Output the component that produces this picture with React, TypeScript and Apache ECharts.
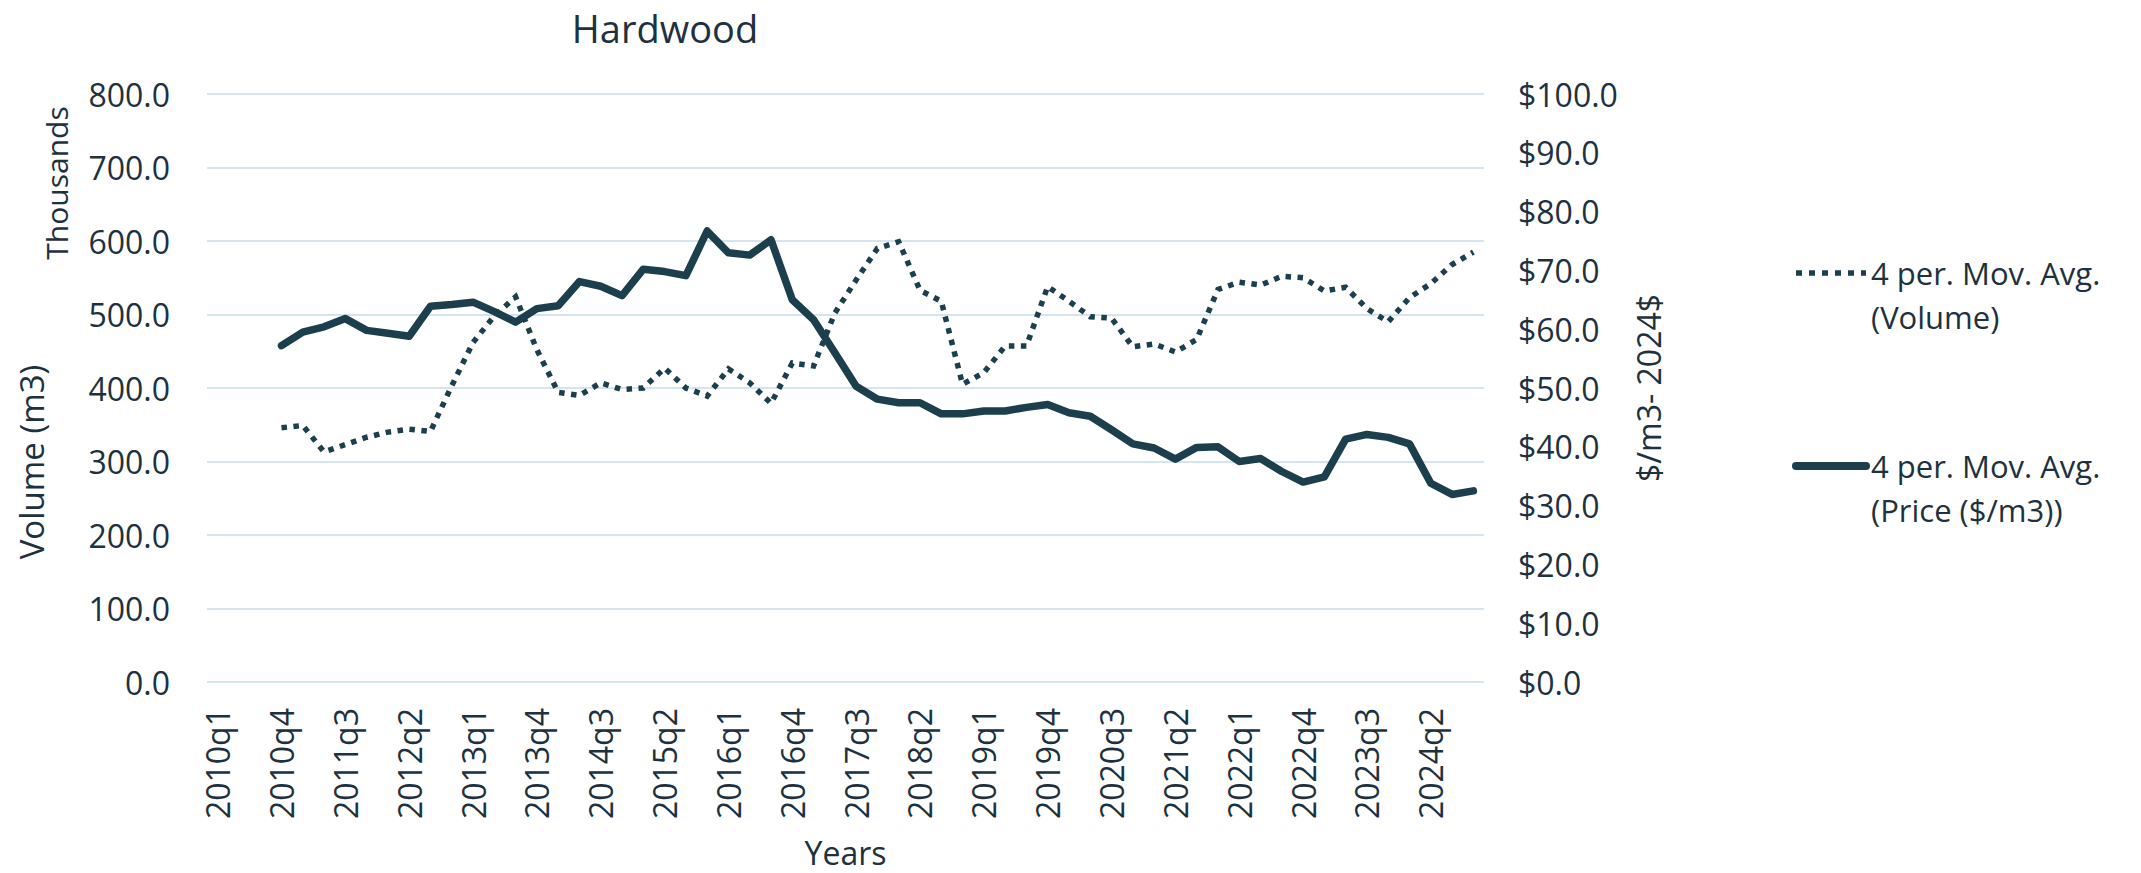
import React, { useEffect, useRef } from 'react';
import * as echarts from 'echarts';

const categories: string[] = [
  '2010q1', '2010q2', '2010q3', '2010q4',
  '2011q1', '2011q2', '2011q3', '2011q4',
  '2012q1', '2012q2', '2012q3', '2012q4',
  '2013q1', '2013q2', '2013q3', '2013q4',
  '2014q1', '2014q2', '2014q3', '2014q4',
  '2015q1', '2015q2', '2015q3', '2015q4',
  '2016q1', '2016q2', '2016q3', '2016q4',
  '2017q1', '2017q2', '2017q3', '2017q4',
  '2018q1', '2018q2', '2018q3', '2018q4',
  '2019q1', '2019q2', '2019q3', '2019q4',
  '2020q1', '2020q2', '2020q3', '2020q4',
  '2021q1', '2021q2', '2021q3', '2021q4',
  '2022q1', '2022q2', '2022q3', '2022q4',
  '2023q1', '2023q2', '2023q3', '2023q4',
  '2024q1', '2024q2', '2024q3', '2024q4',
];

// 4-period moving average of volume, thousands of m3
const volumeThousands: (number | null)[] = [
  null, null, null,
  346, 349, 313, 323, 333, 340, 344, 341, 403, 462,
  498, 524, 452, 394, 390, 407, 398, 400, 427, 400,
  389, 426, 407, 379, 434, 430, 502, 547, 590, 599,
  533, 518, 405, 421, 457, 457, 538, 518, 497, 495,
  456, 460, 449, 466, 534, 544, 540, 552, 550, 532,
  537, 508, 490, 523, 542, 568, 585,
];

// 4-period moving average of price, $/m3 (2024$)
const priceDollars: (number | null)[] = [
  null, null, null,
  57.2, 59.5, 60.4, 61.8, 59.8, 59.3, 58.8, 63.9, 64.2, 64.6,
  63.0, 61.2, 63.5, 64.0, 68.1, 67.3, 65.7, 70.2, 69.8, 69.1,
  76.7, 73.0, 72.6, 75.2, 65.0, 61.6, 56.0, 50.3, 48.1, 47.5,
  47.5, 45.6, 45.6, 46.1, 46.1, 46.7, 47.2, 45.8, 45.2, 42.9,
  40.5, 39.8, 37.9, 39.9, 40.0, 37.5, 38.0, 35.8, 34.0, 34.9,
  41.3, 42.1, 41.6, 40.5, 33.8, 31.9, 32.5,
];

const seriesNames = ['4 per. Mov. Avg.\n(Volume)', '4 per. Mov. Avg.\n(Price ($/m3))'];
const chartTitle = 'Hardwood';
const leftAxisUnit = 'Thousands';
const leftAxisTitle = 'Volume (m3)';
const rightAxisTitle = '$/m3- 2024$';
const xAxisTitle = 'Years';

const volumeAxis = { min: 0, max: 800, interval: 100 };
const priceAxis = { min: 0, max: 100, interval: 10 };

const FONT = 'Open Sans';
const TEXT = '#1d3140';
const LINE = '#1b3f4c';
const GRID = '#d4e5ef';

export default function App() {
  const ref = useRef<HTMLDivElement>(null);

  useEffect(() => {
    if (!ref.current) return;
    const chart = echarts.init(ref.current, undefined, { renderer: 'svg' });
    chart.setOption({
      animation: false,
      backgroundColor: '#ffffff',
      textStyle: { fontFamily: FONT, color: TEXT },
      grid: { left: 207, right: 657, top: 94, bottom: 189, containLabel: false },
      graphic: [
        {
          type: 'text',
          x: 665,
          y: 28,
          style: { text: chartTitle, font: `38px "${FONT}"`, fill: TEXT, align: 'center', verticalAlign: 'middle' },
        },
        {
          type: 'text',
          x: 56,
          y: 183,
          rotation: Math.PI / 2,
          style: { text: leftAxisUnit, font: `30px "${FONT}"`, fill: TEXT, align: 'center', verticalAlign: 'middle' },
        },
        {
          type: 'text',
          x: 31,
          y: 462,
          rotation: Math.PI / 2,
          style: { text: leftAxisTitle, font: `33px "${FONT}"`, fill: TEXT, align: 'center', verticalAlign: 'middle' },
        },
      ],
      legend: {
        orient: 'vertical',
        left: 1787,
        top: 202,
        itemWidth: 70,
        itemHeight: 14,
        itemGap: 61,
        formatter: (name: string) => ' \n' + name,
        itemStyle: { opacity: 0 },
        textStyle: {
          fontFamily: FONT,
          fontSize: 31,
          lineHeight: 44,
          color: TEXT,
        },
        data: [
          {
            name: seriesNames[0],
            itemStyle: { opacity: 0 },
            lineStyle: { color: LINE, width: 5.5, type: [6, 7], cap: 'butt' },
          },
          {
            name: seriesNames[1],
            itemStyle: { opacity: 0 },
            lineStyle: { color: LINE, width: 8, type: 'solid', cap: 'round' },
          },
        ],
      },
      xAxis: {
        type: 'category',
        data: categories,
        boundaryGap: true,
        name: xAxisTitle,
        nameLocation: 'middle',
        nameGap: 154,
        nameTextStyle: { fontFamily: FONT, fontSize: 32, color: TEXT },
        axisLine: { show: false },
        axisTick: { show: false },
        axisLabel: {
          interval: 2,
          rotate: 90,
          margin: 26,
          fontFamily: FONT,
          fontSize: 32,
          color: TEXT,
        },
        splitLine: { show: false },
      },
      yAxis: [
        {
          type: 'value',
          position: 'left',
          min: volumeAxis.min,
          max: volumeAxis.max,
          interval: volumeAxis.interval,
          axisLine: { show: false },
          axisTick: { show: false },
          axisLabel: {
            margin: 37,
            fontFamily: FONT,
            fontSize: 32,
            color: TEXT,
            formatter: (v: number) => v.toFixed(1),
          },
          splitLine: { show: true, lineStyle: { color: GRID, width: 2 } },
        },
        {
          type: 'value',
          position: 'right',
          min: priceAxis.min,
          max: priceAxis.max,
          interval: priceAxis.interval,
          name: rightAxisTitle,
          nameLocation: 'middle',
          nameRotate: 90,
          nameGap: 148,
          nameTextStyle: { fontFamily: FONT, fontSize: 32, color: TEXT },
          axisLine: { show: false },
          axisTick: { show: false },
          axisLabel: {
            margin: 34,
            fontFamily: FONT,
            fontSize: 32,
            color: TEXT,
            formatter: (v: number) => '$' + v.toFixed(1),
          },
          splitLine: { show: false },
        },
      ],
      series: [
        {
          name: seriesNames[0],
          type: 'line',
          yAxisIndex: 0,
          data: volumeThousands,
          symbol: 'none',
          showSymbol: false,
          lineStyle: { color: LINE, width: 5.5, type: [5.5, 6.5], cap: 'butt', join: 'miter' },
          itemStyle: { color: LINE },
        },
        {
          name: seriesNames[1],
          type: 'line',
          yAxisIndex: 1,
          data: priceDollars,
          symbol: 'none',
          showSymbol: false,
          lineStyle: { color: LINE, width: 7.5, cap: 'round', join: 'round' },
          itemStyle: { color: LINE },
        },
      ],
    });
    return () => chart.dispose();
  }, []);

  return (
    <div
      ref={ref}
      style={{ position: 'fixed', left: 0, top: 0, width: 2141, height: 873, background: '#fff' }}
    />
  );
}
